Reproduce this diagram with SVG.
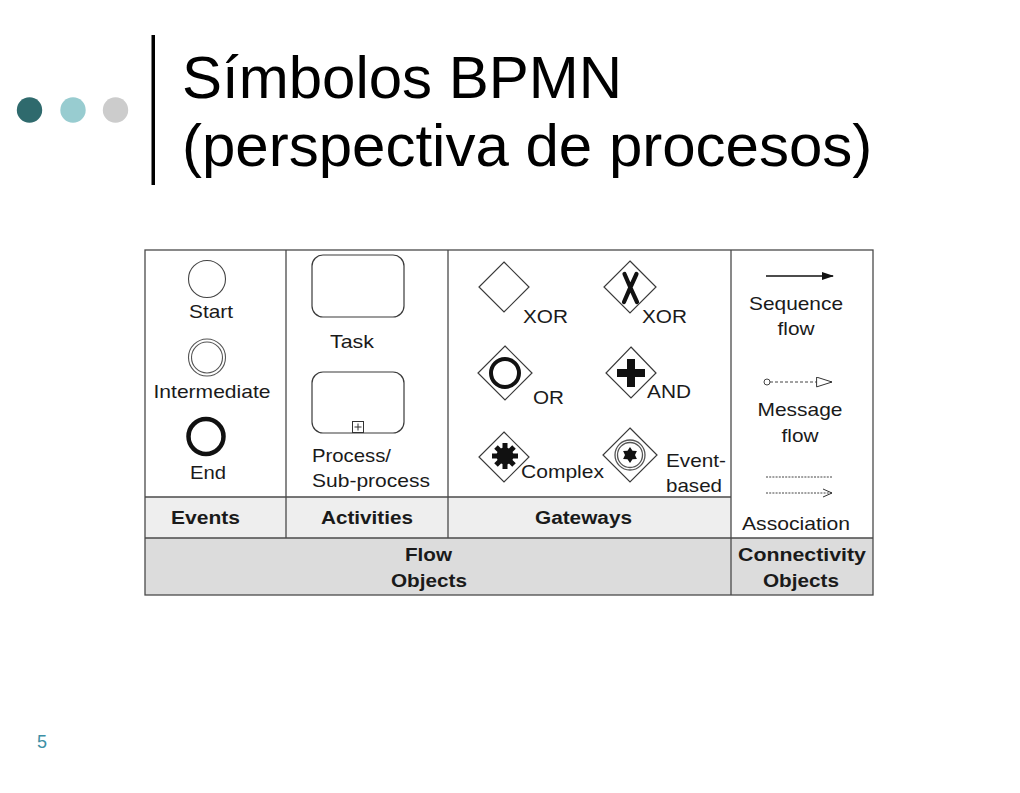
<svg xmlns="http://www.w3.org/2000/svg" width="1020" height="793" viewBox="0 0 1020 793">
<defs>
<style>
.t{font-family:"Liberation Sans",Arial,sans-serif;font-size:18.5px;fill:#1a1a1a}
.b{font-family:"Liberation Sans",Arial,sans-serif;font-size:18px;font-weight:bold;fill:#1a1a1a}
.title{font-family:"Liberation Sans",Arial,sans-serif;font-size:60px;fill:#000}
.grid{stroke:#4a4a4a;stroke-width:1.3;fill:none}
.sh{stroke:#3a3a3a;stroke-width:1.2;fill:#fff}
.m{text-anchor:middle}
</style>
<marker id="seqArrow" viewBox="0 0 12 8" refX="11" refY="4" markerWidth="12" markerHeight="8" markerUnits="userSpaceOnUse" orient="auto">
<path d="M0,0 L12,4 L0,8 Z" fill="#111"/>
</marker>
<marker id="msgArrow" viewBox="0 0 17 11" refX="16" refY="5.5" markerWidth="17" markerHeight="11" markerUnits="userSpaceOnUse" orient="auto">
<path d="M0.6,0.6 L16,5.5 L0.6,10.4 Z" fill="#fff" stroke="#333" stroke-width="1"/>
</marker>
<marker id="assocArrow" viewBox="0 0 10 10" refX="9" refY="5" markerWidth="10" markerHeight="10" markerUnits="userSpaceOnUse" orient="auto">
<path d="M0,1 L9,5 L0,9" fill="none" stroke="#333" stroke-width="1"/>
</marker>
</defs>
<rect width="1020" height="793" fill="#fff"/>

<g id="header">
<circle cx="29.5" cy="110" r="12.7" fill="#2f6a6d"/>
<circle cx="73" cy="110" r="12.7" fill="#98ccd0"/>
<circle cx="115.5" cy="110" r="12.7" fill="#cccccc"/>
<rect x="151.5" y="35" width="3.5" height="150" fill="#000"/>
<text class="title" x="182" y="98">Símbolos BPMN</text>
<text class="title" x="182" y="166">(perspectiva de procesos)</text>
<text x="42" y="748" style="font-family:'Liberation Sans',Arial,sans-serif;font-size:18px;fill:#3d8fa5" text-anchor="middle">5</text>
</g>

<g id="table">
<rect x="145" y="497" width="586" height="41" fill="#eeeeee"/>
<rect x="145" y="538" width="728" height="57" fill="#dcdcdc"/>
<rect x="145" y="250" width="728" height="345" class="grid"/>
<line x1="286" y1="250" x2="286" y2="538" class="grid"/>
<line x1="448" y1="250" x2="448" y2="538" class="grid"/>
<line x1="731" y1="250" x2="731" y2="595" class="grid"/>
<line x1="145" y1="497" x2="731" y2="497" class="grid"/>
<line x1="145" y1="538" x2="873" y2="538" class="grid"/>
<text class="b m" x="205.5" y="524" textLength="69" lengthAdjust="spacingAndGlyphs">Events</text>
<text class="b m" x="367" y="524" textLength="92" lengthAdjust="spacingAndGlyphs">Activities</text>
<text class="b m" x="583.5" y="524" textLength="97" lengthAdjust="spacingAndGlyphs">Gateways</text>
<text class="b m" x="428.5" y="561" textLength="47" lengthAdjust="spacingAndGlyphs">Flow</text>
<text class="b m" x="429" y="587" textLength="76" lengthAdjust="spacingAndGlyphs">Objects</text>
<text class="b m" x="802" y="561" textLength="128" lengthAdjust="spacingAndGlyphs">Connectivity</text>
<text class="b m" x="801" y="587" textLength="76" lengthAdjust="spacingAndGlyphs">Objects</text>
</g>

<g id="event-start">
<circle cx="207" cy="279" r="18.5" fill="#fff" stroke="#444" stroke-width="1.1"/>
<text class="t m" x="211" y="318" textLength="44" lengthAdjust="spacingAndGlyphs">Start</text>
</g>
<g id="event-intermediate">
<circle cx="207" cy="357.5" r="18.5" fill="#fff" stroke="#555" stroke-width="1.1"/>
<circle cx="207" cy="357.5" r="15.5" fill="none" stroke="#555" stroke-width="1.1"/>
<text class="t m" x="212" y="398" textLength="117" lengthAdjust="spacingAndGlyphs">Intermediate</text>
</g>
<g id="event-end">
<circle cx="206" cy="436.5" r="17.5" fill="#fff" stroke="#111" stroke-width="4.5"/>
<text class="t m" x="208" y="479" textLength="36" lengthAdjust="spacingAndGlyphs">End</text>
</g>

<g id="activity-task">
<rect x="312" y="255" width="92" height="62" rx="11" class="sh"/>
<text class="t m" x="352" y="348" textLength="44" lengthAdjust="spacingAndGlyphs">Task</text>
</g>
<g id="activity-subprocess">
<rect x="312" y="372" width="92" height="61" rx="11" class="sh"/>
<rect x="352.5" y="421.5" width="11" height="11" fill="#fff" stroke="#333" stroke-width="1"/>
<path d="M358,423.5 V430.5 M354.5,427 H361.5" stroke="#333" stroke-width="1"/>
<text class="t" x="312" y="462" textLength="79" lengthAdjust="spacingAndGlyphs">Process/</text>
<text class="t" x="312" y="487" textLength="118" lengthAdjust="spacingAndGlyphs">Sub-process</text>
</g>

<g id="gateway-xor">
<path d="M504,262 L529,287 L504,312 L479,287 Z" class="sh"/>
<text class="t" x="523" y="323" textLength="45" lengthAdjust="spacingAndGlyphs">XOR</text>
</g>
<g id="gateway-xor-marked">
<path d="M630,261 L656,287 L630,313 L604,287 Z" class="sh"/>
<path d="M624.5,274 Q630,287 637,302 M636.5,274 Q630,288 624,302" fill="none" stroke="#111" stroke-width="4.2" stroke-linecap="round"/>
<text class="t" x="642" y="323" textLength="45" lengthAdjust="spacingAndGlyphs">XOR</text>
</g>
<g id="gateway-or">
<path d="M505,346 L532,373 L505,400 L478,373 Z" class="sh"/>
<circle cx="505" cy="373" r="14" fill="none" stroke="#111" stroke-width="4"/>
<text class="t" x="533" y="404" textLength="31" lengthAdjust="spacingAndGlyphs">OR</text>
</g>
<g id="gateway-and">
<path d="M631,347 L656,373 L631,398 L606,373 Z" class="sh"/>
<path d="M617,373 H645 M631,359 V387" stroke="#111" stroke-width="8"/>
<text class="t" x="647" y="398" textLength="44" lengthAdjust="spacingAndGlyphs">AND</text>
</g>
<g id="gateway-complex">
<path d="M504,432 L529,457 L504,482 L479,457 Z" class="sh"/>
<circle cx="505" cy="456" r="8.5" fill="#111"/>
<path d="M492,456 H518 M505,443 V469 M496,447 L514,465 M514,447 L496,465" stroke="#111" stroke-width="5"/>
<text class="t" x="521" y="478" textLength="83" lengthAdjust="spacingAndGlyphs">Complex</text>
</g>
<g id="gateway-event-based">
<path d="M630,428 L657,455 L630,482 L603,455 Z" class="sh"/>
<circle cx="630" cy="455" r="15" fill="none" stroke="#555" stroke-width="1.3"/>
<circle cx="630" cy="455" r="12.5" fill="none" stroke="#555" stroke-width="1.3"/>
<path d="M630,447 L632.5,450.7 L636.9,451 L635,455 L636.9,459 L632.5,459.3 L630,463 L627.5,459.3 L623.1,459 L625,455 L623.1,451 L627.5,450.7 Z" fill="#111"/>
<text class="t" x="666" y="467" textLength="60" lengthAdjust="spacingAndGlyphs">Event-</text>
<text class="t" x="666" y="492" textLength="56" lengthAdjust="spacingAndGlyphs">based</text>
</g>

<g id="connectors">
<line x1="766" y1="276" x2="833" y2="276" stroke="#111" stroke-width="1.3" marker-end="url(#seqArrow)"/>
<circle cx="767" cy="382" r="3" fill="#fff" stroke="#444" stroke-width="1"/>
<line x1="770" y1="382" x2="832" y2="382" stroke="#444" stroke-width="1" stroke-dasharray="3,2" marker-end="url(#msgArrow)"/>
<line x1="766" y1="477" x2="832" y2="477" stroke="#444" stroke-width="1" stroke-dasharray="2,1.2"/>
<line x1="766" y1="493" x2="832" y2="493" stroke="#444" stroke-width="1" stroke-dasharray="2,1.2" marker-end="url(#assocArrow)"/>
</g>

<g id="connectivity-labels">
<text class="t m" x="796" y="310" textLength="94" lengthAdjust="spacingAndGlyphs">Sequence</text>
<text class="t m" x="796" y="335" textLength="37" lengthAdjust="spacingAndGlyphs">flow</text>
<text class="t m" x="800" y="416" textLength="85" lengthAdjust="spacingAndGlyphs">Message</text>
<text class="t m" x="800" y="442" textLength="37" lengthAdjust="spacingAndGlyphs">flow</text>
<text class="t m" x="796" y="530" textLength="108" lengthAdjust="spacingAndGlyphs">Association</text>
</g>
</svg>
